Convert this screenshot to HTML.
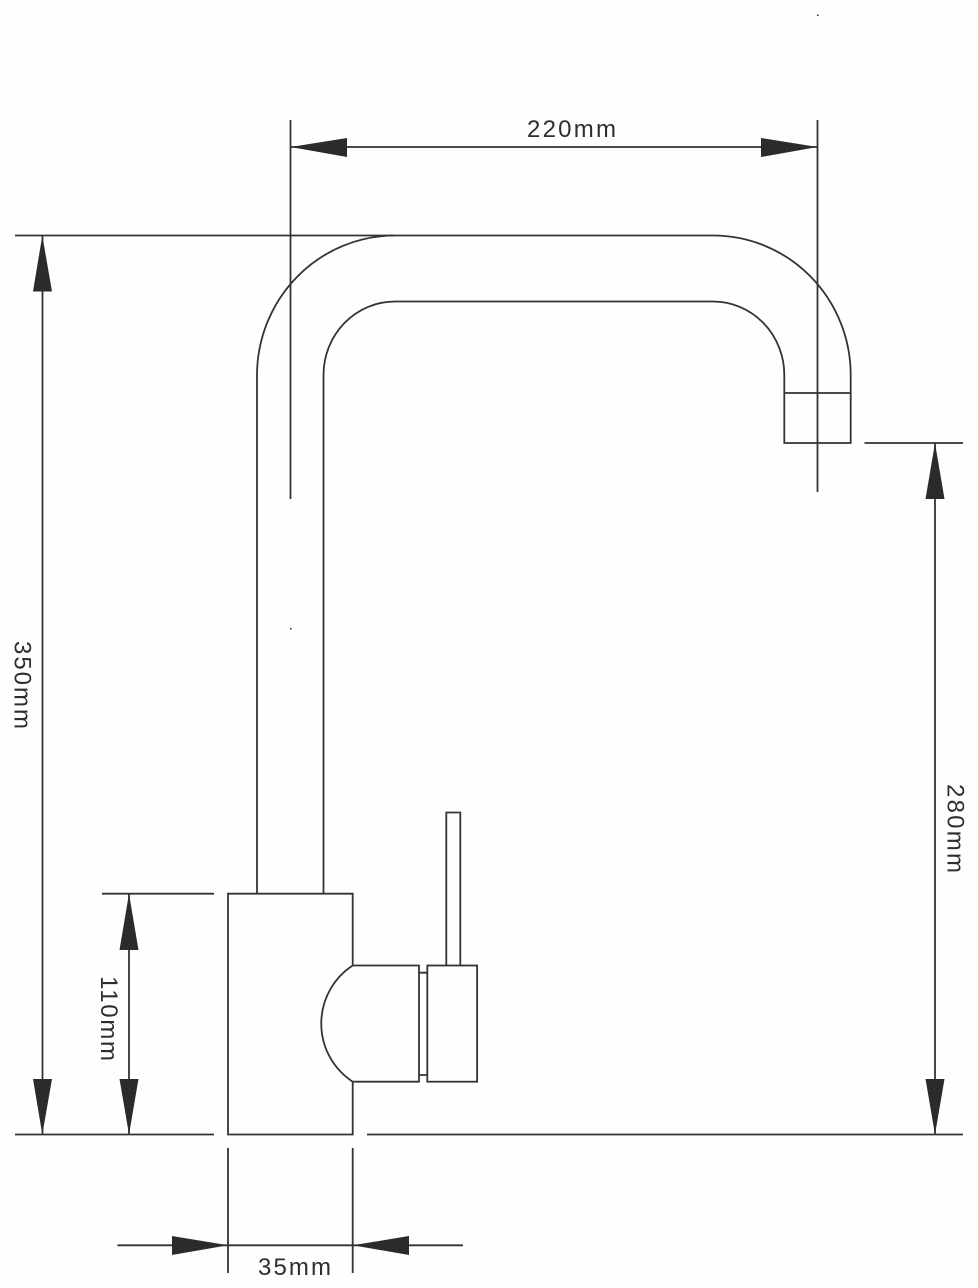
<!DOCTYPE html>
<html>
<head>
<meta charset="utf-8">
<style>
html,body{margin:0;padding:0;background:#fefefe;width:978px;height:1288px;overflow:hidden}
svg{display:block}
text{font-family:"Liberation Sans",sans-serif;font-size:24px;fill:#2e2e2e}
</style>
</head>
<body>
<svg width="978" height="1288" viewBox="0 0 978 1288" xmlns="http://www.w3.org/2000/svg">
<rect width="978" height="1288" fill="#fefefe"/>
<g fill="none" stroke="#333" stroke-width="1.8">
  <!-- spout -->
  <path d="M257 893.7V375A138 140 0 0 1 395 235.5H713A137.7 139.5 0 0 1 850.7 375V443H784.3V375A71.3 73.5 0 0 0 713 301.5H395A71.5 73.5 0 0 0 323.5 375V893.7"/>
  <path d="M784.3 393H850.7"/>
  <!-- body -->
  <path d="M352.7 965.5V893.7H228V1134.5H352.7V1081.7"/>
  <path d="M352.7 965.5A69.4 69.4 0 0 0 352.7 1081.7"/>
  <!-- handle -->
  <path d="M352.7 965.5H419V1081.7H352.7"/>
  <path d="M419 972.7H427.3M419 1075H427.3"/>
  <rect x="427.3" y="965.5" width="49.8" height="116.2"/>
  <path d="M446.3 965.5V812.5H460.3V965.5"/>
  <!-- extension lines -->
  <path d="M15 235.5H395"/>
  <path d="M290.5 120V499"/>
  <path d="M817.5 120V492"/>
  <path d="M864.5 443H963"/>
  <path d="M102 893.7H214"/>
  <path d="M15 1134.5H214"/>
  <path d="M367 1134.5H963"/>
  <path d="M228 1148V1273M352.7 1148V1273"/>
  <!-- dimension lines -->
  <path d="M290.5 147H817.5"/>
  <path d="M42.5 235.5V1134.5"/>
  <path d="M129 893.7V1134.5"/>
  <path d="M935 443V1134.5"/>
  <path d="M117.5 1245.3H463"/>
</g>
<g fill="#2b2b2b">
  <!-- 220 arrows -->
  <path d="M290.5 147L347 138V157Z"/>
  <path d="M817.5 147L761 138V157Z"/>
  <!-- 350 arrows -->
  <path d="M42.3 235.5L33 291.5H52Z"/>
  <path d="M42.3 1134.5L33 1079H52Z"/>
  <!-- 110 arrows -->
  <path d="M129 893.7L119.5 950H138.5Z"/>
  <path d="M129 1134.5L119.5 1079H138.5Z"/>
  <!-- 280 arrows -->
  <path d="M935 443L925.5 499H944.5Z"/>
  <path d="M935 1134.5L925.5 1079H944.5Z"/>
  <!-- 35 arrows -->
  <path d="M228 1245.3L172 1236V1255Z"/>
  <path d="M352.7 1245.3L409 1236V1255Z"/>
  <!-- specks -->
  <rect x="817" y="14.5" width="1.5" height="1.5"/>
  <rect x="290" y="628" width="1.5" height="1.5"/>
</g>
<text x="527" y="137" textLength="89" lengthAdjust="spacing">220mm</text>
<text x="258" y="1275" textLength="73" lengthAdjust="spacing">35mm</text>
<text transform="translate(14.5 641) rotate(90)" textLength="88" lengthAdjust="spacing">350mm</text>
<text transform="translate(101 976) rotate(90)" textLength="85" lengthAdjust="spacing">110mm</text>
<text transform="translate(947.5 784) rotate(90)" textLength="89" lengthAdjust="spacing">280mm</text>
</svg>
</body>
</html>
